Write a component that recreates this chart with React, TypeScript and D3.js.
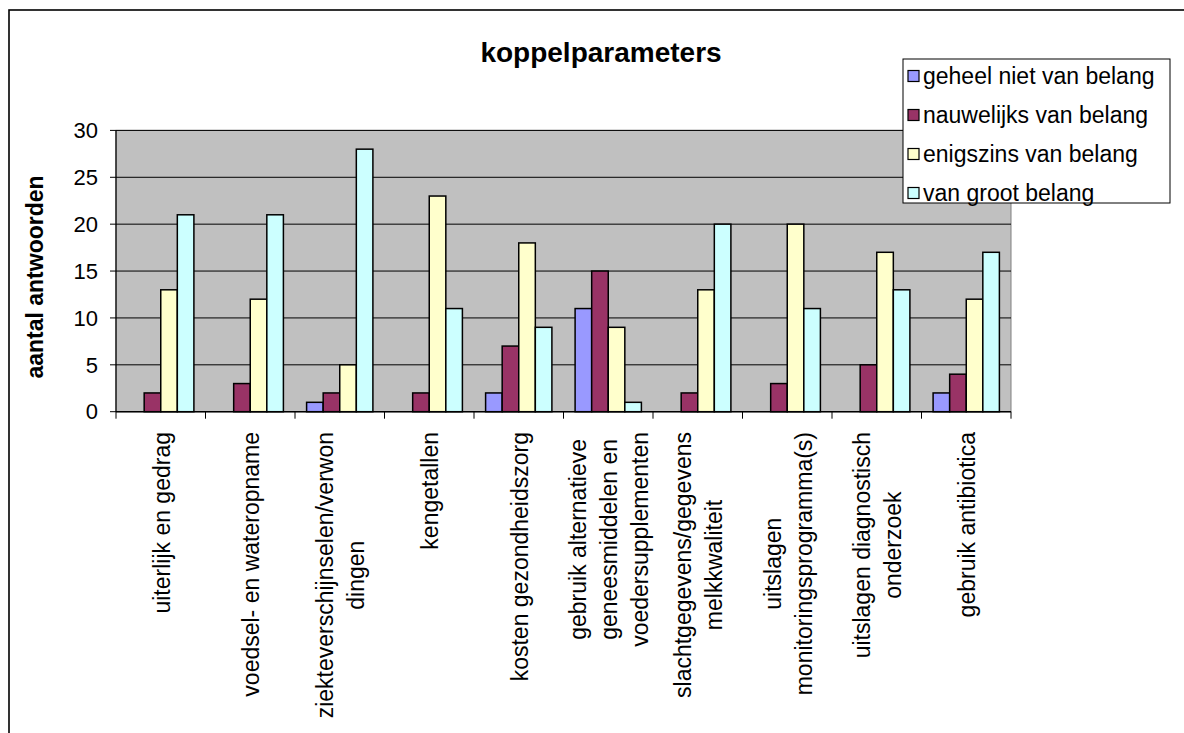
import React, { useEffect, useRef } from "react";
import * as d3 from "d3";

const categories: string[][] = [
  ["uiterlijk en gedrag"],
  ["voedsel- en wateropname"],
  ["ziekteverschijnselen/verwon", "dingen"],
  ["kengetallen"],
  ["kosten gezondheidszorg"],
  ["gebruik alternatieve", "geneesmiddelen en", "voedersupplementen"],
  ["slachtgegevens/gegevens", "melkkwaliteit"],
  ["uitslagen", "monitoringsprogramma(s)"],
  ["uitslagen diagnostisch", "onderzoek"],
  ["gebruik antibiotica"],
];

const seriesNames = [
  "geheel niet van belang",
  "nauwelijks van belang",
  "enigszins van belang",
  "van groot belang",
];

const geheelNiet = [0, 0, 1, 0, 2, 11, 0, 0, 0, 2];
const nauwelijks = [2, 3, 2, 2, 7, 15, 2, 3, 5, 4];
const enigszins = [13, 12, 5, 23, 18, 9, 13, 20, 17, 12];
const grootBelang = [21, 21, 28, 11, 9, 1, 20, 11, 13, 17];

const seriesColors = ["#9999FF", "#993366", "#FFFFCC", "#CCFFFF"];
const yTicks = [0, 5, 10, 15, 20, 25, 30];

const FONT = "Arial, 'Liberation Sans', Helvetica, sans-serif";

export default function App() {
  const ref = useRef<SVGSVGElement | null>(null);

  useEffect(() => {
    const svg = d3.select(ref.current);
    svg.selectAll("*").remove();

    const W = 1184, H = 733;
    const left = 116, right = 1011, top = 130.4, bottom = 411.7;
    const allSeries = [geheelNiet, nauwelijks, enigszins, grootBelang];

    // outer chart border
    svg.append("rect").attr("x", 9).attr("y", 10).attr("width", W + 20).attr("height", H + 20)
      .attr("fill", "#fff").attr("stroke", "#000").attr("stroke-width", 1.6);

    const x0 = d3.scaleBand<number>().domain(d3.range(categories.length)).range([left, right]).paddingInner(0).paddingOuter(0);
    const x1 = d3.scaleBand<number>().domain(d3.range(4)).range([0, x0.bandwidth()]).paddingInner(0).paddingOuter(0.7);
    const y = d3.scaleLinear().domain([0, 30]).range([bottom, top]);

    // plot area
    svg.append("rect").attr("x", left).attr("y", top).attr("width", right - left).attr("height", bottom - top)
      .attr("fill", "#C0C0C0").attr("stroke", "#808080").attr("stroke-width", 1);

    // gridlines
    svg.append("g").selectAll("line").data(yTicks.filter((t) => t > 0)).join("line")
      .attr("x1", left).attr("x2", right).attr("y1", (d) => y(d)).attr("y2", (d) => y(d))
      .attr("stroke", "#000").attr("stroke-width", 1);

    // bars
    const g = svg.append("g");
    categories.forEach((_, ci) => {
      allSeries.forEach((s, si) => {
        const v = s[ci];
        if (v <= 0) return;
        g.append("rect")
          .attr("x", (x0(ci) as number) + (x1(si) as number))
          .attr("y", y(v))
          .attr("width", x1.bandwidth())
          .attr("height", y(0) - y(v))
          .attr("fill", seriesColors[si])
          .attr("stroke", "#000").attr("stroke-width", 1.5);
      });
    });

    // axes lines
    svg.append("line").attr("x1", left).attr("x2", left).attr("y1", top).attr("y2", bottom).attr("stroke", "#000").attr("stroke-width", 1.2);
    svg.append("line").attr("x1", left).attr("x2", right).attr("y1", bottom).attr("y2", bottom).attr("stroke", "#000").attr("stroke-width", 1.5);

    // y ticks
    svg.append("g").selectAll("line").data(yTicks).join("line")
      .attr("x1", left - 6).attr("x2", left).attr("y1", (d) => y(d)).attr("y2", (d) => y(d))
      .attr("stroke", "#000");
    svg.append("g").selectAll("text").data(yTicks).join("text")
      .attr("x", left - 18).attr("y", (d) => y(d)).attr("dy", "0.35em")
      .attr("text-anchor", "end").attr("font-family", FONT).attr("font-size", 22)
      .text((d) => String(d));

    // x ticks at category boundaries
    const bounds = d3.range(categories.length + 1).map((i) => left + i * x0.step());
    svg.append("g").selectAll("line").data(bounds).join("line")
      .attr("x1", (d) => d).attr("x2", (d) => d).attr("y1", bottom).attr("y2", bottom + 7)
      .attr("stroke", "#000");

    // category labels (rotated, lines centered, block top at y=432)
    const lineH = 31;
    categories.forEach((lines, ci) => {
      const cx = (x0(ci) as number) + x0.bandwidth() / 2 + 1;
      const grp = svg.append("g");
      const texts = lines.map((ln) =>
        grp.append("text").attr("font-family", FONT).attr("font-size", 23).attr("text-anchor", "middle").text(ln)
      );
      const maxLen = d3.max(texts, (t) => (t.node() as SVGTextElement).getComputedTextLength()) || 0;
      const cy = 432 + maxLen / 2;
      texts.forEach((t, i) => {
        const lx = cx + (i - (lines.length - 1) / 2) * lineH;
        t.attr("transform", `translate(${lx},${cy}) rotate(-90)`).attr("dy", "0.35em");
      });
    });

    // y-axis title
    svg.append("text").attr("transform", `translate(35,277) rotate(-90)`)
      .attr("text-anchor", "middle").attr("dy", "0.35em").attr("font-family", FONT).attr("font-weight", "bold").attr("font-size", 23)
      .text("aantal antwoorden");

    // chart title
    svg.append("text").attr("x", 601).attr("y", 62).attr("text-anchor", "middle")
      .attr("font-family", FONT).attr("font-weight", "bold").attr("font-size", 28)
      .text("koppelparameters");

    // legend
    const lx = 903, ly = 59, lw = 267, lh = 144;
    svg.append("rect").attr("x", lx).attr("y", ly).attr("width", lw).attr("height", lh)
      .attr("fill", "#fff").attr("stroke", "#000").attr("stroke-width", 1);
    const legY = d3.scalePoint<number>().domain(d3.range(4)).range([ly + 17, ly + lh - 10]);
    seriesNames.forEach((name, i) => {
      const cy = legY(i) as number;
      svg.append("rect").attr("x", lx + 5).attr("y", cy - 5.5).attr("width", 11).attr("height", 11)
        .attr("fill", seriesColors[i]).attr("stroke", "#000").attr("stroke-width", 1.2);
      svg.append("text").attr("x", lx + 20).attr("y", cy).attr("dy", "0.35em")
        .attr("font-family", FONT).attr("font-size", 23).text(name);
    });
  }, []);

  return (
    <svg ref={ref} width={1184} height={733} style={{ position: "absolute", left: 0, top: 0, background: "#fff" }} />
  );
}
